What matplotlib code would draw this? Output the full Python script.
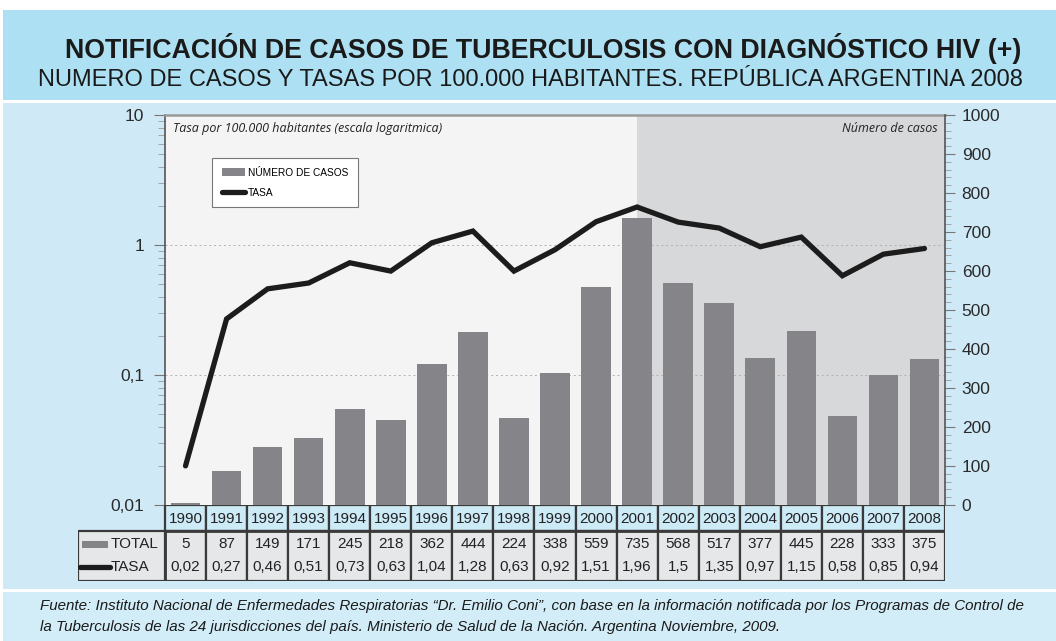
import matplotlib
matplotlib.use("Agg")
import matplotlib.pyplot as plt
from matplotlib.patches import Rectangle
from matplotlib.lines import Line2D
from matplotlib.ticker import FixedLocator, FixedFormatter, MultipleLocator, LogLocator, NullFormatter

# ---------------- data ----------------
years = [1990, 1991, 1992, 1993, 1994, 1995, 1996, 1997, 1998, 1999,
         2000, 2001, 2002, 2003, 2004, 2005, 2006, 2007, 2008]
casos = [5, 87, 149, 171, 245, 218, 362, 444, 224, 338,
         559, 735, 568, 517, 377, 445, 228, 333, 375]
tasa = [0.02, 0.27, 0.46, 0.51, 0.73, 0.63, 1.04, 1.28, 0.63, 0.92,
        1.51, 1.96, 1.5, 1.35, 0.97, 1.15, 0.58, 0.85, 0.94]
tasa_labels = ["0,02", "0,27", "0,46", "0,51", "0,73", "0,63", "1,04", "1,28", "0,63", "0,92",
               "1,51", "1,96", "1,5", "1,35", "0,97", "1,15", "0,58", "0,85", "0,94"]
log_ticks = [0.01, 0.1, 1, 10]
log_tick_labels = ["0,01", "0,1", "1", "10"]
shade_from_year = 2001

title1 = "NOTIFICACIÓN DE CASOS DE TUBERCULOSIS CON DIAGNÓSTICO HIV (+)"
title2 = "NUMERO DE CASOS Y TASAS POR 100.000 HABITANTES. REPÚBLICA ARGENTINA 2008"
foot1 = ("Fuente: Instituto Nacional de Enfermedades Respiratorias \u201cDr. Emilio Coni\u201d, con base en la "
         "información notificada por los Programas de Control de")
foot2 = ("la Tuberculosis de las 24 jurisdicciones del país. Ministerio de Salud de la Nación. "
         "Argentina Noviembre, 2009.")

# ---------------- style ----------------
W, H = 1056, 641
BG = "#cfeaf6"
TITLE_BG = "#ace0f2"
BAR = "#858589"
LINE = "#1c1c1c"
CELL = "#e6e7e8"
EDGE = "#3a3a3a"
SANS = ["Liberation Sans", "DejaVu Sans"]

def fx(px):
    return px / W

def fy(py):
    return 1 - py / H

fig = plt.figure(figsize=(W / 100, H / 100), dpi=100)
fig.patch.set_facecolor("white")

# background bands
for (x, ytop, w, h, c) in [(3, 10, 1053, 90, TITLE_BG), (3, 103, 1053, 486, BG), (3, 592, 1053, 49, "#d3edf8")]:
    fig.patches.append(Rectangle((fx(x), fy(ytop + h)), w / W, h / H, transform=fig.transFigure,
                                 facecolor=c, edgecolor="none", zorder=-10))

fig.text(fx(543), fy(48), title1, ha="center", va="center", fontsize=19.3, fontweight="bold",
         family=SANS, color="#1a1a1a")
fig.text(fx(530), fy(80), title2, ha="center", va="center", fontsize=17,
         family=SANS, color="#1a1a1a")

fig.text(fx(40), fy(606), foot1, ha="left", va="center", fontsize=10.9, style="italic",
         family=SANS, color="#1a1a1a")
fig.text(fx(40), fy(627), foot2, ha="left", va="center", fontsize=10.9, style="italic",
         family=SANS, color="#1a1a1a")

# ---------------- main axes ----------------
L, R, T, B = 165, 945, 115, 505
rect = [fx(L), fy(B), (R - L) / W, (B - T) / H]
n = len(years)
xs = list(range(n))
xlim = (-0.5, n - 0.5)

ax_bg = fig.add_axes(rect)
ax_bg.set_facecolor("#f4f4f4")
ax_bg.set_yscale("log")
ax_bg.set_ylim(log_ticks[0], log_ticks[-1])
ax_bg.set_xlim(*xlim)
ax_bg.axvspan(years.index(shade_from_year), n - 0.5, color="#d7d8da", zorder=0, lw=0)
for v in log_ticks[1:-1]:
    ax_bg.axhline(v, color="#b0b0b0", lw=0.7, ls=(0, (2, 3)), zorder=1)
ax_bg.yaxis.set_major_locator(FixedLocator(log_ticks))
ax_bg.yaxis.set_major_formatter(FixedFormatter(log_tick_labels))
ax_bg.yaxis.set_minor_locator(LogLocator(base=10, subs=[2, 3, 4, 5, 6, 7, 8, 9]))
ax_bg.yaxis.set_minor_formatter(NullFormatter())
ax_bg.tick_params(axis="y", which="major", length=8, width=0.8, color="#777777",
                  labelsize=12.5, labelcolor="#2a2a2a", pad=7)
ax_bg.tick_params(axis="y", which="minor", length=5, width=0.6, color="#999999")
for lab in ax_bg.get_yticklabels():
    lab.set_family(SANS)
ax_bg.set_xticks([])

# bars (right axis)
ax_bar = ax_bg.twinx()
ax_bar.patch.set_visible(False)
ax_bar.bar(xs, casos, width=0.72, color=BAR, zorder=2)
ax_bar.set_ylim(0, 1000)
ax_bar.set_xlim(*xlim)
ax_bar.yaxis.set_major_locator(MultipleLocator(100))
ax_bar.yaxis.set_minor_locator(MultipleLocator(20))
ax_bar.tick_params(axis="y", which="major", length=7, width=0.8, color="#777777",
                   labelsize=12.5, labelcolor="#2a2a2a", pad=5)
ax_bar.tick_params(axis="y", which="minor", length=4, width=0.6, color="#999999")
for lab in ax_bar.get_yticklabels():
    lab.set_family(SANS)

# line (log)
ax_line = ax_bg.twinx()
ax_line.patch.set_visible(False)
ax_line.set_yscale("log")
ax_line.set_ylim(log_ticks[0], log_ticks[-1])
ax_line.set_xlim(*xlim)
ax_line.plot(xs, tasa, color=LINE, lw=3.8, solid_capstyle="round", solid_joinstyle="miter", zorder=3)
ax_line.set_yticks([])
ax_line.yaxis.set_minor_locator(plt.NullLocator())
ax_line.set_xticks([])

for a in (ax_bg, ax_bar, ax_line):
    for s in a.spines.values():
        s.set_visible(False)
ax_bg.spines["left"].set_visible(True)
ax_bg.spines["left"].set_color("#555555")
ax_bg.spines["left"].set_linewidth(1.2)
ax_bar.spines["right"].set_visible(True)
ax_bar.spines["right"].set_color("#555555")
ax_bar.spines["right"].set_linewidth(1.2)
ax_bg.spines["top"].set_visible(True)
ax_bg.spines["top"].set_color("#9a9a9a")
ax_bg.spines["top"].set_linewidth(1.8)

ax_line.text(0.01, 0.965, "Tasa por 100.000 habitantes (escala logaritmica)", transform=ax_line.transAxes,
             ha="left", va="center", fontsize=9, style="italic", family=["Open Sans", "DejaVu Sans"],
             color="#222222")
ax_line.text(0.99, 0.965, "Número de casos", transform=ax_line.transAxes,
             ha="right", va="center", fontsize=9, style="italic", family=["Open Sans", "DejaVu Sans"],
             color="#222222")

# legend
handles = [Rectangle((0, 0), 1, 1, facecolor=BAR, edgecolor="none"),
           Line2D([0], [0], color=LINE, lw=3.8, solid_capstyle="round")]
leg = fig.legend(handles, ["NÚMERO DE CASOS", "TASA"], loc="upper left",
                 bbox_to_anchor=(fx(212), fy(158)), frameon=True, fancybox=False,
                 edgecolor="#777777", facecolor="white", framealpha=1,
                 prop={"family": SANS, "size": 7.3}, handlelength=2.3, handleheight=0.9,
                 borderpad=0.95, labelspacing=1.0, handletextpad=0.3, borderaxespad=0)
leg.get_frame().set_linewidth(0.8)
leg.set_zorder(10)

# ---------------- table ----------------
TL, TT, TB = 78, 505, 581
colw = (R - L) / n
x0 = -0.5 - (L - TL) / colw
ax_t = fig.add_axes([fx(TL), fy(TB), (R - TL) / W, (TB - TT) / H])
ax_t.set_xlim(x0, n - 0.5)
ax_t.set_ylim(3, 0)
ax_t.axis("off")

for i in xs:
    ax_t.add_patch(Rectangle((i - 0.5, 0), 1, 1.03, facecolor="#cdeaf7", edgecolor=EDGE, lw=1.6))
    ax_t.add_patch(Rectangle((i - 0.5, 1.03), 1, 1.97, facecolor=CELL, edgecolor=EDGE, lw=1.6))
    ax_t.text(i, 0.55, str(years[i]), ha="center", va="center", fontsize=11, family=SANS, color="#222222")
    ax_t.text(i, 1.55, str(casos[i]), ha="center", va="center", fontsize=11, family=SANS, color="#222222")
    ax_t.text(i, 2.45, tasa_labels[i], ha="center", va="center", fontsize=11, family=SANS, color="#222222")
ax_t.add_patch(Rectangle((x0, 1.03), -0.5 - x0, 1.97, facecolor=CELL, edgecolor=EDGE, lw=1.6))
ax_t.add_patch(Rectangle((-0.5, 1.03), n, 1.97, facecolor="none", edgecolor=EDGE, lw=2.0))
ax_t.add_patch(Rectangle((x0 + 0.1, 1.42), 0.62, 0.26, facecolor=BAR, edgecolor="none"))
ax_t.plot([x0 + 0.06, x0 + 0.78], [2.45, 2.45], color=LINE, lw=3.8, solid_capstyle="round")
ax_t.text(x0 + 0.8, 1.55, "TOTAL", ha="left", va="center", fontsize=11, family=SANS, color="#222222")
ax_t.text(x0 + 0.8, 2.45, "TASA", ha="left", va="center", fontsize=11, family=SANS, color="#222222")

fig.savefig("out.png", dpi=100, facecolor=fig.get_facecolor())
